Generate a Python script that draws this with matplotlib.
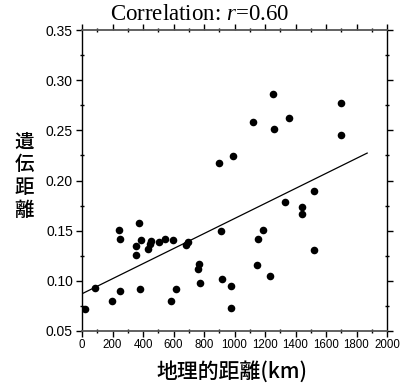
import numpy as np
import matplotlib
matplotlib.use('Agg')
import matplotlib.pyplot as plt
from matplotlib.ticker import MultipleLocator

# 地理的距離 (km) と 遺伝距離
geo_km = [22, 88, 197, 248, 243, 252, 351, 357, 375, 388, 382, 436, 447, 452,
          507, 542, 597, 581, 618, 682, 695, 766, 763, 776, 897, 914, 916, 978,
          978, 987, 1123, 1147, 1151, 1186, 1232, 1252, 1259, 1331, 1360, 1443,
          1443, 1524, 1524, 1700, 1700]
gen_dist = [0.072, 0.093, 0.080, 0.090, 0.151, 0.142, 0.135, 0.126, 0.158, 0.141,
            0.092, 0.132, 0.137, 0.140, 0.139, 0.142, 0.141, 0.080, 0.092, 0.136,
            0.139, 0.117, 0.112, 0.098, 0.217, 0.150, 0.102, 0.095, 0.073, 0.224,
            0.258, 0.116, 0.142, 0.151, 0.105, 0.286, 0.251, 0.179, 0.262, 0.174,
            0.167, 0.190, 0.131, 0.277, 0.245]
line_range = [0, 1870]

plt.rcParams['mathtext.fontset'] = 'custom'
plt.rcParams['mathtext.rm'] = 'Liberation Serif'
plt.rcParams['mathtext.it'] = 'Liberation Serif:italic'

fig = plt.figure(figsize=(4.05, 3.87), dpi=100)
ax = fig.add_axes([82 / 405, 1 - 331 / 387, 305 / 405, 301 / 387])

ax.scatter(geo_km, gen_dist, s=30, color='black', zorder=3, linewidths=0)

# 回帰直線
slope, intercept = np.polyfit(geo_km, gen_dist, 1)
xs = np.array(line_range)
ax.plot(xs, intercept + slope * xs, color='black', lw=0.9)

ax.set_xlim(0, 2000)
ax.set_ylim(0.05, 0.35)
ax.xaxis.set_major_locator(MultipleLocator(200))
ax.xaxis.set_minor_locator(MultipleLocator(100))
ax.yaxis.set_major_locator(MultipleLocator(0.05))
ax.yaxis.set_minor_locator(MultipleLocator(0.025))
ax.yaxis.set_major_formatter(matplotlib.ticker.FormatStrFormatter('%.2f'))

ax.tick_params(axis='both', which='major', direction='out', length=4, width=1, color='black')
ax.tick_params(axis='both', which='minor', direction='inout', length=3, width=1)
ax.tick_params(axis='x', which='both', top=True, labeltop=False)
ax.tick_params(axis='y', which='both', right=True, labelright=False)

for lab in ax.get_yticklabels():
    lab.set_fontfamily('Liberation Sans')
    lab.set_fontsize(10)
for lab in ax.get_xticklabels():
    lab.set_fontfamily('Liberation Sans')
    lab.set_fontsize(8.3)
ax.tick_params(axis='y', pad=2.5)
ax.tick_params(axis='x', pad=2)

for side in ['top', 'bottom']:
    ax.spines[side].set_color('#555555')
    ax.spines[side].set_linewidth(1.3)
for side in ['left', 'right']:
    ax.spines[side].set_color('black')
    ax.spines[side].set_linewidth(1.0)

fig.text(200 / 405, 1 - 15 / 387, r'Correlation: $\mathit{r}$=0.60', ha='center', va='center',
         fontsize=16.5, family='Liberation Serif')

fig.text(24 / 405, 1 - 176 / 387, '遺\n伝\n距\n離', ha='center', va='center',
         fontsize=14, family='Noto Sans CJK JP', weight='medium', linespacing=1.25)
fig.text(232 / 405, 1 - 372 / 387, '地理的距離(km)', ha='center', va='center',
         fontsize=15, family='Noto Sans CJK JP', weight='medium')

fig.savefig('out.png', dpi=100)
